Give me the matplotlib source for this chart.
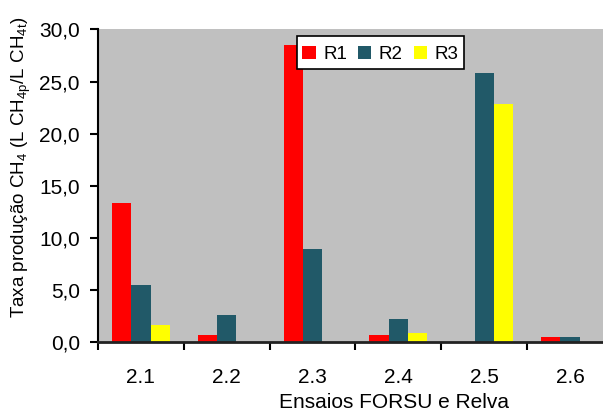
import numpy as np
import matplotlib
matplotlib.use("Agg")
import matplotlib.pyplot as plt
from matplotlib.patches import Rectangle
from matplotlib.container import BarContainer
from matplotlib.legend_handler import HandlerPatch, update_from_first_child

plt.rcParams['font.family'] = ['Liberation Sans', 'DejaVu Sans']
plt.rcParams['mathtext.fontset'] = 'custom'
plt.rcParams['mathtext.rm'] = 'Liberation Sans'
plt.rcParams['mathtext.it'] = 'Liberation Sans'

ensaios = ['2.1', '2.2', '2.3', '2.4', '2.5', '2.6']
r1 = [13.35, 0.64, 28.55, 0.64, 0.0, 0.45]
r2 = [5.45, 2.56, 8.9, 2.18, 25.85, 0.48]
r3 = [1.6, 0.0, 0.0, 0.83, 22.85, 0.0]

cores = {'R1': '#FF0000', 'R2': '#215968', 'R3': '#FFFF00'}

fig = plt.figure(figsize=(6.03, 4.12), dpi=100)
ax = fig.add_axes([0.1625, 0.1706, 0.854, 0.7578])
ax.set_facecolor('#C0C0C0')

x = np.arange(len(ensaios))
w = 0.225
ax.bar(x - w, r1, w, color=cores['R1'], label='R1')
ax.bar(x, r2, w, color=cores['R2'], label='R2')
ax.bar(x + w, r3, w, color=cores['R3'], label='R3')

ax.set_xlim(-0.5, 5.5)
ax.set_ylim(0, 30)
ax.set_yticks(np.arange(0, 31, 5))
ax.set_yticklabels([f'{v:.1f}'.replace('.', ',') for v in np.arange(0, 31, 5)])

# category labels in the middle, tick marks between categories
ax.set_xticks(np.arange(-0.5, 6, 1.0))
ax.set_xticklabels([])
ax.set_xticks(x, minor=True)
ax.set_xticklabels(ensaios, minor=True)
ax.tick_params(axis='x', which='minor', length=0, pad=19, labelsize=15)
ax.tick_params(axis='x', which='major', length=6, width=1.5, direction='out')
ax.tick_params(axis='y', length=6, width=1.5, direction='out', pad=7, labelsize=15)

for s in ['top', 'right']:
    ax.spines[s].set_visible(False)
ax.spines['left'].set_linewidth(1.5)
ax.spines['bottom'].set_linewidth(2)
ax.spines['bottom'].set_color('#222222')


def quadrado(legend, orig_handle, xdescent, ydescent, width, height, fontsize):
    # small square centred in a taller handle box
    s = 0.7 * fontsize
    return Rectangle((-xdescent + (width - s) / 2, -ydescent + (height - s) / 2), s, s)


leg = ax.legend(loc='upper left', bbox_to_anchor=(0.386, 0.98), ncol=3,
                fontsize=13.5, handlelength=0.7, handleheight=1.45,
                handletextpad=0.4, columnspacing=0.6, borderpad=0.3,
                borderaxespad=0, fancybox=False, framealpha=1,
                edgecolor='black',
                handler_map={BarContainer: HandlerPatch(
                    patch_func=quadrado, update_func=update_from_first_child)})
leg.get_frame().set_linewidth(1.2)

fig.text(394 / 603, 1 - 403 / 412, 'Ensaios FORSU e Relva', fontsize=15,
         ha='center', va='center')
fig.text(21 / 603, 1 - 167 / 412,
         r'Taxa produção CH$_4$ (L CH$_{4p}$/L CH$_{4t}$)', fontsize=13.5,
         rotation=90, ha='center', va='center')

fig.savefig('out.png', dpi=100)
